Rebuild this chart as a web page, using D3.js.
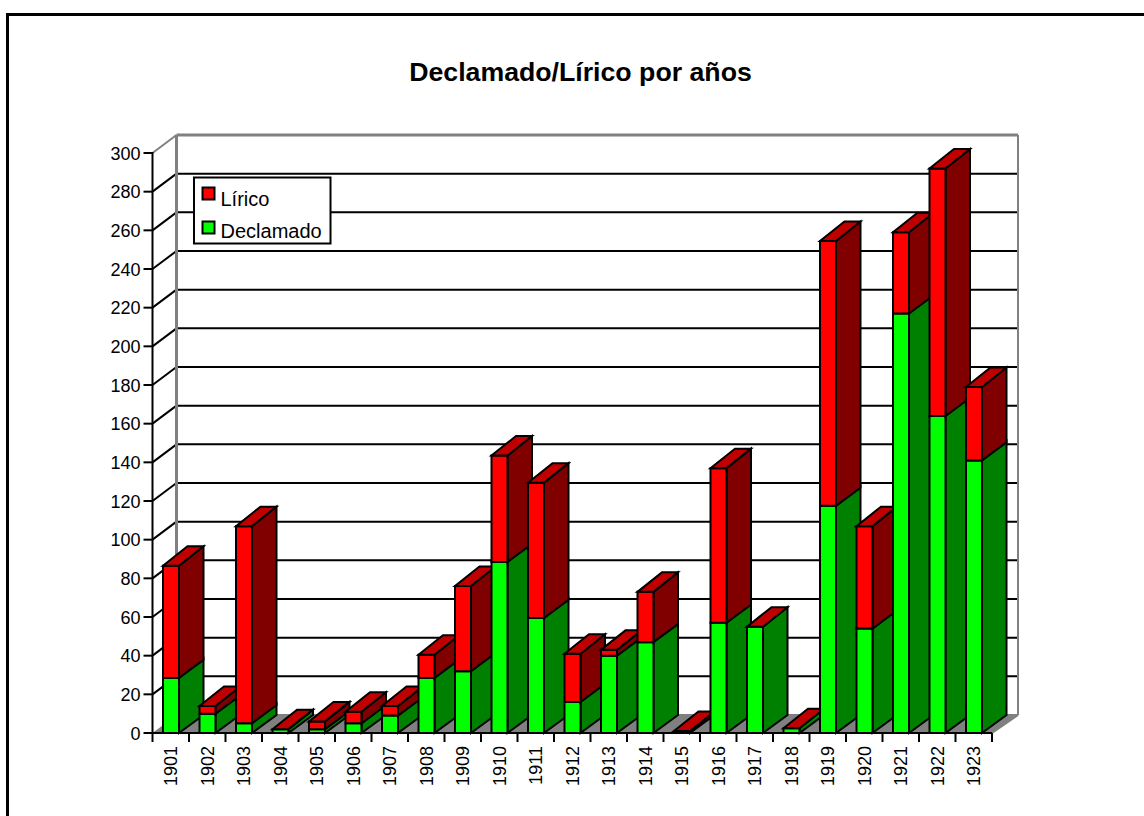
<!DOCTYPE html>
<html><head><meta charset="utf-8">
<script src="https://cdn.jsdelivr.net/npm/d3@7"></script>
<style>html,body{margin:0;padding:0;background:#fff}svg{display:block}text{font-family:"Liberation Sans",Arial,sans-serif;fill:#000}</style>
</head><body><svg id="c" width="1144" height="816"></svg>
<script>
const years=["1901","1902","1903","1904","1905","1906","1907","1908","1909","1910","1911","1912","1913","1914","1915","1916","1917","1918","1919","1920","1921","1922","1923"];
const declamado=[28.5,10,5,2,2,5,9,28.5,32,88.5,59.5,16,40,47,0,57,55,2.5,117.5,54,217,164,141];
const lirico=[58,4,102,0,4,6,5,12,44,55,70,25,3,26,1,80,0,0,137,53,42,128,38];
const yTicks=d3.range(0,301,20);
const seriesNames=["Lírico","Declamado"];
const svg=d3.select("#c");
const x=d3.scaleBand().domain(years).range([152.5,992]).paddingInner(0).paddingOuter(0);
const y=d3.scaleLinear().domain([0,300]).range([733,153]);
const DXL=24,DXR=26,DY=-18,BDX=24.5,BDY=-19.5;
const RED="#ff0000",REDTOP="#c00000",REDSIDE="#800000",GREEN="#00ff00",GREENSIDE="#008000",GRAY="#808080";
const poly=(pts,fill,sw=2,stroke="#000")=>svg.append("polygon").attr("points",pts.map(p=>p.join(",")).join(" ")).attr("fill",fill).attr("stroke",stroke).attr("stroke-width",sw).attr("stroke-linejoin","miter");
const line=(a,b,stroke="#000",sw=2)=>svg.append("line").attr("x1",a[0]).attr("y1",a[1]).attr("x2",b[0]).attr("y2",b[1]).attr("stroke",stroke).attr("stroke-width",sw);
svg.append("rect").attr("x",7.5).attr("y",14.5).attr("width",1200).attr("height",1000).attr("fill","#fff").attr("stroke","#000").attr("stroke-width",3);
svg.append("text").attr("x",580.5).attr("y",81).attr("text-anchor","middle").attr("font-weight","bold").attr("font-size",26.7).text("Declamado/Lírico por años");
const x0=x.range()[0],x1=x.range()[1],y0=y(0),yT=y(300);
poly([[x0,y0],[x1,y0],[x1+DXR,y0+DY],[x0+DXL,y0+DY]],GRAY,0,"none");
yTicks.slice(1,-1).forEach(t=>{const v=y(t);line([x0,v],[x0+DXL,v+DY]);line([x0+DXL,v+DY],[x1+DXR,v+DY]);});
line([x0+DXL,yT+DY],[x0+DXL,y0+DY],GRAY,3);
line([x0+DXL,yT+DY],[x1+DXR,yT+DY],GRAY,3);
line([x1+DXR,yT+DY],[x1+DXR,y0+DY],GRAY,2);
line([x0,yT],[x0+DXL,yT+DY],GRAY,2);
line([x1,y0],[x1+DXR,y0+DY],GRAY,2);
line([x0+DXL,y0+DY],[x1+DXR,y0+DY],GRAY,2);
line([x0,yT-1],[x0,y0+1]);line([x0,y0],[x1,y0]);
yTicks.forEach(t=>{const v=y(t);line([x0-9,v],[x0,v]);
 svg.append("text").attr("x",140.5).attr("y",v+6.5).attr("text-anchor","end").attr("font-size",18).text(t);});
years.forEach(yr=>{const s=x(yr);line([s,y0],[s,y0+9]);
 svg.append("text").attr("transform",`translate(${s+x.bandwidth()/2+6.5},746) rotate(-90)`).attr("text-anchor","end").attr("font-size",18).text(yr);});
line([x1,y0],[x1,y0+9]);
function seg(l,r,bot,top,front,side){
 poly([[r,bot],[r+BDX,bot+DY],[r+BDX,top+BDY],[r,top]],side);
 poly([[l,bot],[r,bot],[r,top],[l,top]],front);
}
years.forEach((yr,i)=>{
 const l=x(yr)+10.5,r=l+16;
 const d=declamado[i],t=d+lirico[i];
 if(d>0)seg(l,r,y(0),y(d),GREEN,GREENSIDE);
 if(lirico[i]>0)seg(l,r,y(d),y(t),RED,REDSIDE);
 poly([[l,y(t)],[r,y(t)],[r+BDX,y(t)+BDY],[l+BDX,y(t)+BDY]],REDTOP);
});
svg.append("rect").attr("x",194).attr("y",177.5).attr("width",136.5).attr("height",66).attr("fill","#fff").attr("stroke","#000").attr("stroke-width",2);
[[RED,187.5,seriesNames[0],206],[GREEN,221.5,seriesNames[1],238]].forEach(([c,sy,n,ty])=>{
 svg.append("rect").attr("x",202.5).attr("y",sy).attr("width",12).attr("height",12).attr("fill",c).attr("stroke","#000").attr("stroke-width",2);
 svg.append("text").attr("x",220.5).attr("y",ty).attr("font-size",20).text(n);
});
</script></body></html>
